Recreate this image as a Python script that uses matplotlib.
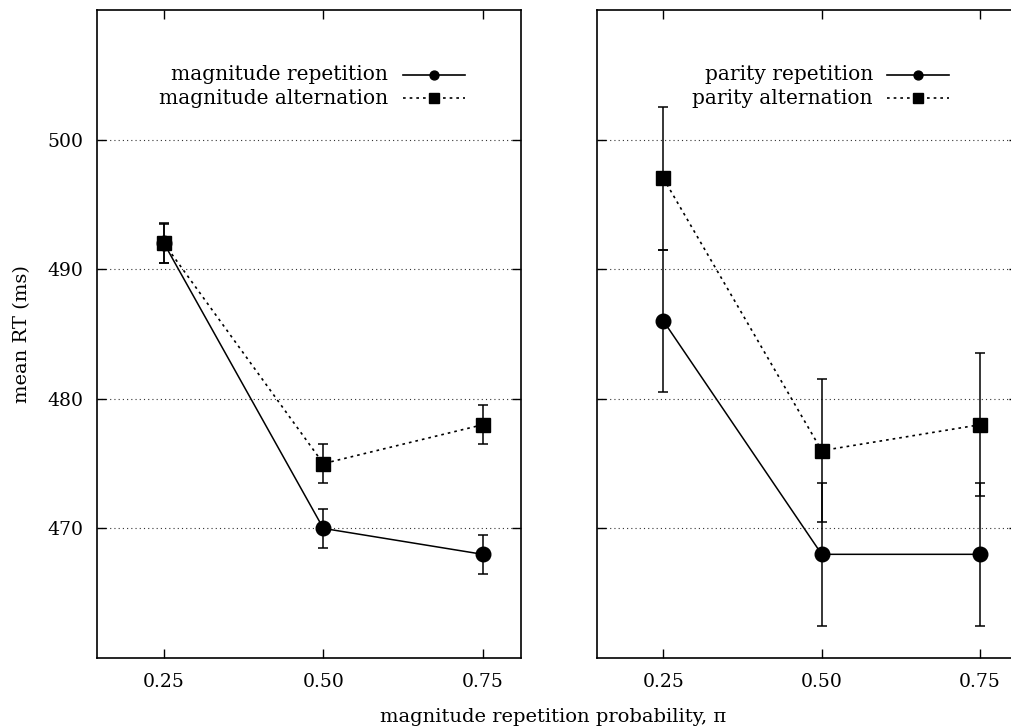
import matplotlib
matplotlib.use("Agg")
import matplotlib.pyplot as plt
from matplotlib.lines import Line2D

# Data: mean RT (ms) with error half-widths
prob = [0.25, 0.50, 0.75]
xtick_labels = ["0.25", "0.50", "0.75"]
yticks = [470, 480, 490, 500]

mag_rep = [492, 470, 468]
mag_rep_err = [1.5, 1.5, 1.5]
mag_alt = [492, 475, 478]
mag_alt_err = [1.55, 1.5, 1.5]

par_rep = [486, 468, 468]
par_rep_err = [5.5, 5.5, 5.5]
par_alt = [497, 476, 478]
par_alt_err = [5.5, 5.5, 5.5]

labels_left = ["magnitude repetition", "magnitude alternation"]
labels_right = ["parity repetition", "parity alternation"]

plt.rcParams["font.family"] = ["DejaVu Serif"]
plt.rcParams["font.size"] = 13.5

W, H = 1011, 727
fig = plt.figure(figsize=(W / 100, H / 100), dpi=100)


def frac_box(x0, y0, x1, y1):
    return [x0 / W, 1 - y1 / H, (x1 - x0) / W, (y1 - y0) / H]


ax_l = fig.add_axes(frac_box(97, 10, 521, 658))
ax_r = fig.add_axes(frac_box(597, 10, 1018, 658))

dot_line = (0, (1.6, 2.4))
grid_dot = (0, (1.0, 2.8))


def draw_panel(ax, rep, rep_err, alt, alt_err, show_ylabels):
    ax.set_xlim(0.145, 0.81)
    ax.set_ylim(460, 510)
    for yv in yticks:
        ax.axhline(yv, color="#333333", lw=0.8, linestyle=grid_dot, zorder=0)
    ax.errorbar(prob, rep, yerr=rep_err, fmt="none", ecolor="black",
                elinewidth=1.1, capsize=3.8, capthick=1.1, zorder=2)
    ax.errorbar(prob, alt, yerr=alt_err, fmt="none", ecolor="black",
                elinewidth=1.1, capsize=3.8, capthick=1.1, zorder=2)
    ax.plot(prob, rep, color="black", lw=1.1, linestyle="-", marker="o",
            markersize=10.5, zorder=3)
    ax.plot(prob, alt, color="black", lw=1.2, linestyle=dot_line, marker="s",
            markersize=10, zorder=4)
    ax.set_xticks(prob)
    ax.set_xticklabels(xtick_labels)
    ax.set_yticks(yticks)
    if show_ylabels:
        ax.set_yticklabels([str(v) for v in yticks])
    else:
        ax.set_yticklabels([])
    ax.tick_params(direction="in", length=6.5, width=1.0, top=True, right=True,
                   labelsize=13.5)
    ax.tick_params(axis="x", pad=10.5)
    ax.tick_params(axis="y", pad=10)
    for sp in ax.spines.values():
        sp.set_linewidth(1.2)


draw_panel(ax_l, mag_rep, mag_rep_err, mag_alt, mag_alt_err, True)
draw_panel(ax_r, par_rep, par_rep_err, par_alt, par_alt_err, False)


def draw_key(labels, text_right, line_x0, line_x1, rows_y):
    styles = [("-", "o", 6.4), (dot_line, "s", 6.8)]
    for lab, yy, (ls, mk, ms) in zip(labels, rows_y, styles):
        fig.text(text_right / W, 1 - yy / H, lab, ha="right", va="center",
                 fontsize=14.5)
        fig.add_artist(Line2D([line_x0 / W, line_x1 / W],
                              [1 - yy / H, 1 - yy / H],
                              transform=fig.transFigure, color="black",
                              lw=1.2, linestyle=ls))
        fig.add_artist(Line2D([(line_x0 + line_x1) / 2 / W],
                              [1 - yy / H], transform=fig.transFigure,
                              color="black", marker=mk, markersize=ms,
                              linestyle="none"))


draw_key(labels_left, 388, 403, 465, [75, 98])
draw_key(labels_right, 873, 887, 949, [75, 98])

fig.text(22 / W, 1 - 334 / H, "mean RT (ms)", rotation=90, ha="center",
         va="center", fontsize=14)
fig.text(553 / W, 1 - 717 / H, "magnitude repetition probability, π",
         ha="center", va="center", fontsize=14)

fig.savefig("out.png", dpi=100)
